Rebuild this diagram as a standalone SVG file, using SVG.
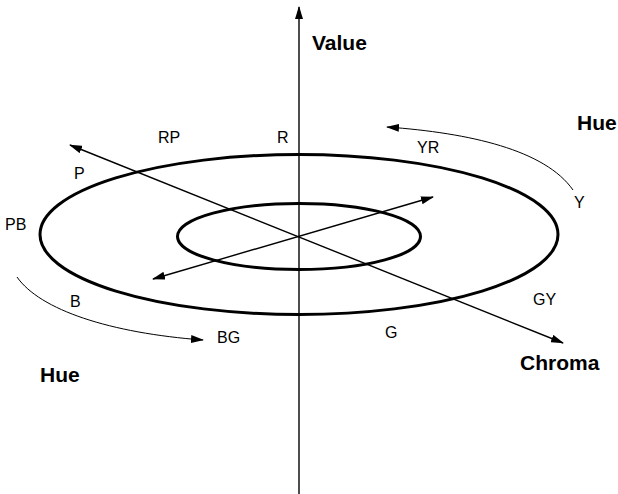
<svg xmlns="http://www.w3.org/2000/svg" width="618" height="494" viewBox="0 0 618 494">
  <defs>
    <marker id="ah" markerUnits="userSpaceOnUse" markerWidth="13" markerHeight="8" refX="12" refY="4" orient="auto-start-reverse">
      <path d="M0,0 L13,4 L0,8 z" fill="#000"/>
    </marker>
    <style>
      .ring { fill: none; stroke: #000; stroke-width: 3; }
      .axis { fill: none; stroke: #000; stroke-width: 1.4; }
      .arc { fill: none; stroke: #000; stroke-width: 1; }
      .lbl { font-family: "Liberation Sans", Arial, sans-serif; font-size: 16px; fill: #000; }
      .ttl { font-family: "Liberation Sans", Arial, sans-serif; font-size: 21px; font-weight: bold; fill: #000; }
    </style>
  </defs>
  <rect width="618" height="494" fill="#fff"/>
  <g id="rings">
    <ellipse id="outer-ring" class="ring" cx="299" cy="234.5" rx="259" ry="80"/>
    <ellipse id="inner-ring" class="ring" cx="299" cy="236.5" rx="121.5" ry="33"/>
  </g>
  <g id="connectors">
    <line id="value-axis" class="axis" x1="299" y1="494" x2="299" y2="7" marker-end="url(#ah)"/>
    <line id="chroma-axis" class="axis" x1="70" y1="145" x2="563" y2="343" marker-start="url(#ah)" marker-end="url(#ah)"/>
    <line id="cross-axis" class="axis" x1="153" y1="279" x2="433" y2="197" marker-start="url(#ah)" marker-end="url(#ah)"/>
    <path id="hue-arc-right" class="arc" d="M573,190 C545,150 470,133 387,127" marker-end="url(#ah)"/>
    <path id="hue-arc-left" class="arc" d="M17,277 C40,310 110,333 203,340" marker-end="url(#ah)"/>
  </g>
  <g id="labels">
    <text class="ttl" x="312" y="50">Value</text>
    <text class="ttl" x="577" y="130">Hue</text>
    <text class="ttl" x="40" y="382">Hue</text>
    <text class="ttl" x="520" y="370">Chroma</text>
    <text class="lbl" x="277" y="143">R</text>
    <text class="lbl" x="158" y="143">RP</text>
    <text class="lbl" x="74" y="179">P</text>
    <text class="lbl" x="5" y="230">PB</text>
    <text class="lbl" x="70" y="307">B</text>
    <text class="lbl" x="217" y="343">BG</text>
    <text class="lbl" x="385" y="338">G</text>
    <text class="lbl" x="533" y="305">GY</text>
    <text class="lbl" x="574" y="208">Y</text>
    <text class="lbl" x="417" y="153">YR</text>
  </g>
</svg>
